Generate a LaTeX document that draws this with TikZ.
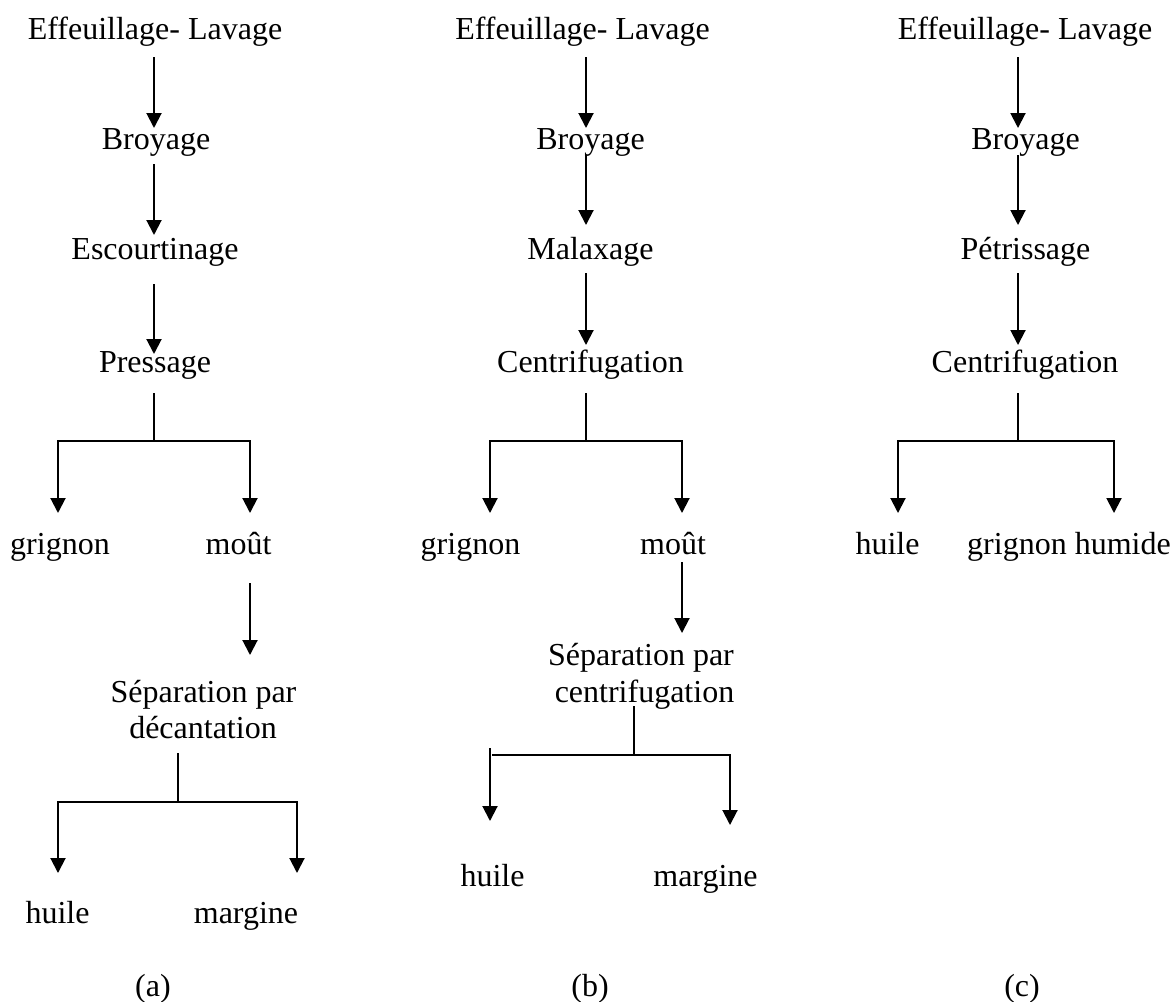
\documentclass[tikz,border=0pt]{standalone}
\usepackage{fontspec}
\setmainfont{Liberation Serif}
\usetikzlibrary{arrows.meta,calc}
\begin{document}
\begin{tikzpicture}[x=1pt,y=-1pt,
  txt/.style={font=\fontsize{32}{36}\selectfont, inner sep=0pt, anchor=base},
  conn/.style={line width=2pt},
  arr/.style={conn,-{Triangle[width=15pt,length=15pt]}}]
\useasboundingbox[fill=white] (0,0) rectangle (1174,1001);

% ---------- column (a)
\node[txt] (a1) at (155,39) {Effeuillage- Lavage};
\node[txt] (a2) at (156,149) {Broyage};
\node[txt] (a3) at (155,259) {Escourtinage};
\node[txt] (a4) at (155,372) {Pressage};
\node[txt] (a5) at (60,554) {grignon};
\node[txt] (a6) at (238.5,554) {moût};
\node[txt] (a7) at (203.5,702) {Séparation par};
\node[txt] (a7b) at (203,738) {décantation};
\node[txt] (a8) at (57.5,923) {huile};
\node[txt] (a9) at (246,923) {margine};
\node[txt] (la) at (153,996) {(a)};

\draw[arr] ($(a1.base)+(-1,18)$) -- ($(a2.base)+(-2,-21)$);
\draw[arr] ($(a2.base)+(-2,15)$) -- ($(a3.base)+(-1,-24)$);
\draw[arr] ($(a3.base)+(-1,25)$) -- ($(a4.base)+(-1,-18)$);
\coordinate (fa) at ($(a4.base)+(-1,69)$);
\draw[conn] ($(a4.base)+(-1,21)$) -- (fa);
\draw[arr] (fa) -| ($(a5.base)+(-2,-41)$);
\draw[arr] (fa) -| ($(a6.base)+(11.5,-41)$);
\draw[arr] ($(a6.base)+(11.5,29)$) -- ($(a7.base)+(46.5,-47)$);
\coordinate (fb) at ($(a7b.base)+(-25,64)$);
\draw[conn] ($(a7b.base)+(-25,15)$) -- (fb);
\draw[arr] (fb) -| ($(a8.base)+(0.5,-50)$);
\draw[arr] (fb) -| ($(a9.base)+(51,-50)$);

% ---------- column (b)
\node[txt] (b1) at (582.5,39) {Effeuillage- Lavage};
\node[txt] (b2) at (590.5,149) {Broyage};
\node[txt] (b3) at (590.5,259) {Malaxage};
\node[txt] (b4) at (590.5,372) {Centrifugation};
\node[txt] (b5) at (470.5,554) {grignon};
\node[txt] (b6) at (673,554) {moût};
\node[txt] (b7) at (641,665) {Séparation par};
\node[txt] (b7b) at (644.5,702) {centrifugation};
\node[txt] (b8) at (492.5,886) {huile};
\node[txt] (b9) at (705.5,886) {margine};
\node[txt] (lb) at (590,996) {(b)};

\draw[arr] ($(b1.base)+(3.5,18)$) -- ($(b2.base)+(-4.5,-21)$);
\draw[arr] ($(b2.base)+(-4.5,6)$) -- ($(b3.base)+(-4.5,-34)$);
\draw[arr] ($(b3.base)+(-4.5,14)$) -- ($(b4.base)+(-4.5,-27)$);
\coordinate (fc) at ($(b4.base)+(-4.5,69)$);
\draw[conn] ($(b4.base)+(-4.5,21)$) -- (fc);
\draw[arr] (fc) -| ($(b5.base)+(19.5,-41)$);
\draw[arr] (fc) -| ($(b6.base)+(9,-41)$);
\draw[arr] ($(b6.base)+(9,8)$) -- ($(b7.base)+(41,-32)$);
\coordinate (fd) at ($(b7b.base)+(-10.5,53)$);
\draw[conn] ($(b7b.base)+(-10.5,4)$) -- (fd);
\draw[conn] (fd) -- ($(b8.base)+(-0.5,-131)$);
\draw[arr] ($(b8.base)+(-2.5,-138)$) -- ($(b8.base)+(-2.5,-65)$);
\draw[arr] (fd) -| ($(b9.base)+(24.5,-61)$);

% ---------- column (c)
\node[txt] (c1) at (1025,39) {Effeuillage- Lavage};
\node[txt] (c2) at (1025.5,149) {Broyage};
\node[txt] (c3) at (1025.5,259) {Pétrissage};
\node[txt] (c4) at (1025,372) {Centrifugation};
\node[txt] (c5) at (887.5,554) {huile};
\node[txt] (c6) at (1069,554) {grignon humide};
\node[txt] (lc) at (1022,996) {(c)};

\draw[arr] ($(c1.base)+(-7,18)$) -- ($(c2.base)+(-7.5,-21)$);
\draw[arr] ($(c2.base)+(-7.5,6)$) -- ($(c3.base)+(-7.5,-34)$);
\draw[arr] ($(c3.base)+(-7.5,14)$) -- ($(c4.base)+(-7,-27)$);
\coordinate (fe) at ($(c4.base)+(-7,69)$);
\draw[conn] ($(c4.base)+(-7,21)$) -- (fe);
\draw[arr] (fe) -| ($(c5.base)+(10.5,-41)$);
\draw[arr] (fe) -| ($(c6.base)+(45,-41)$);
\end{tikzpicture}
\end{document}
